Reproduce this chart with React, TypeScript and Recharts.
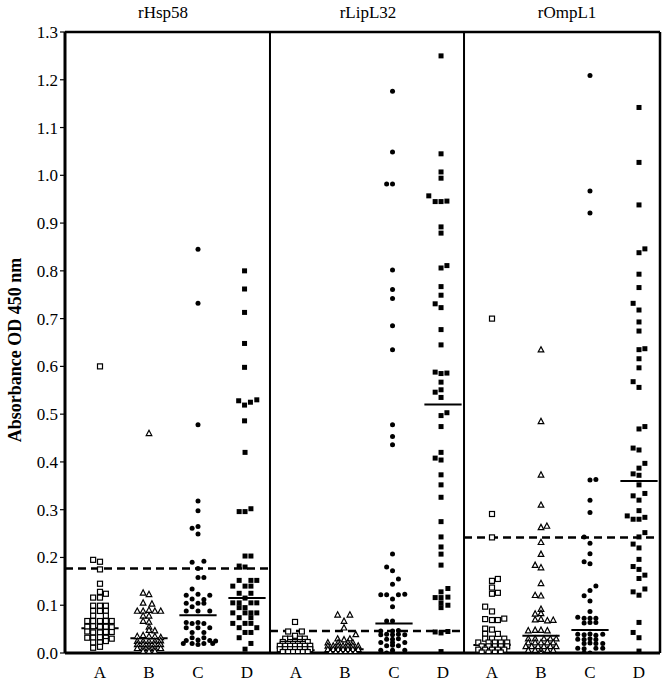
import { ScatterChart, Scatter, XAxis, YAxis, ReferenceLine } from "recharts";

const panels = ["rHsp58", "rLipL32", "rOmpL1"];
const groups = ["A", "B", "C", "D"];
const yTicks = [0, 0.1, 0.2, 0.3, 0.4, 0.5, 0.6, 0.7, 0.8, 0.9, 1.0, 1.1, 1.2, 1.3];

// each point: [offset inside the category, absorbance]
const hspA = [
  [-0.14, 0.195], [0, 0.191], [0, 0.175], [0, 0.145], [0, 0.128], [0.12, 0.124],
  [-0.14, 0.116], [0, 0.116], [-0.14, 0.099], [0, 0.099], [0.12, 0.099],
  [-0.14, 0.088], [0, 0.088], [0.12, 0.088], [-0.14, 0.078], [0.12, 0.078],
  [-0.26, 0.067], [-0.14, 0.067], [0, 0.067], [0.12, 0.067], [0.24, 0.067],
  [-0.26, 0.055], [-0.14, 0.056], [0, 0.055], [0.12, 0.055], [0.24, 0.054],
  [-0.26, 0.045], [-0.14, 0.043], [0, 0.043], [0.12, 0.044], [0.24, 0.044],
  [-0.26, 0.032], [-0.14, 0.032], [0, 0.033], [0.12, 0.032], [0.24, 0.03],
  [-0.14, 0.022], [0, 0.022], [0.12, 0.025], [-0.14, 0.011], [0, 0.013], [0, 0.6],
];
const hspB = [
  [0, 0.46], [-0.12, 0.126], [0, 0.123], [-0.12, 0.105], [0.06, 0.103],
  [-0.24, 0.088], [-0.12, 0.088], [0, 0.09], [0.12, 0.088], [0.24, 0.088],
  [-0.12, 0.078], [0, 0.078], [-0.12, 0.067], [0, 0.065], [0, 0.055],
  [0, 0.048], [0.12, 0.047],
  [-0.24, 0.035], [-0.12, 0.037], [0, 0.035], [0.12, 0.035], [0.24, 0.033],
  [-0.24, 0.025], [-0.12, 0.025], [0, 0.025], [0.12, 0.025], [0.24, 0.026],
  [-0.24, 0.018], [-0.12, 0.018], [0, 0.017], [0.12, 0.018], [0.24, 0.018],
  [-0.24, 0.01], [-0.12, 0.01], [0, 0.01], [0.12, 0.01], [0.24, 0.01],
  [-0.12, 0.004], [0, 0.004], [0.12, 0.004],
];
const hspC = [
  [0, 0.845], [0, 0.732], [0, 0.478], [0, 0.318], [0, 0.298], [-0.12, 0.261],
  [0, 0.265], [0, 0.249], [-0.12, 0.19], [0.12, 0.192], [0, 0.177], [0, 0.158],
  [0.12, 0.158], [-0.12, 0.134], [-0.24, 0.121], [0, 0.123], [0.24, 0.121],
  [-0.12, 0.113], [0.12, 0.112], [-0.24, 0.104], [0, 0.104], [0.12, 0.104],
  [-0.12, 0.097], [-0.24, 0.088], [0, 0.088], [0.24, 0.088],
  [-0.24, 0.064], [-0.12, 0.062], [0, 0.064], [0.12, 0.062],
  [-0.24, 0.053], [0, 0.053], [0.24, 0.053], [-0.12, 0.043], [0.12, 0.043],
  [-0.12, 0.032], [0.12, 0.032], [-0.24, 0.026], [0, 0.027], [0.24, 0.026],
  [0.36, 0.025], [-0.3, 0.02], [-0.12, 0.02], [0, 0.018], [0.12, 0.02], [0.3, 0.02],
];
const hspD = [
  [-0.05, 0.8], [-0.05, 0.762], [-0.05, 0.713], [-0.05, 0.648], [-0.05, 0.598],
  [-0.17, 0.528], [-0.05, 0.519], [0.07, 0.525], [0.2, 0.53], [-0.05, 0.486],
  [-0.04, 0.42], [-0.16, 0.296], [-0.04, 0.296], [0.08, 0.302], [-0.04, 0.203],
  [0.08, 0.203], [-0.16, 0.182], [-0.04, 0.18],
  [-0.16, 0.152], [0.08, 0.152], [0.2, 0.152], [-0.29, 0.14], [-0.04, 0.14], [0.08, 0.14],
  [-0.16, 0.125], [0.08, 0.125], [-0.04, 0.115], [-0.29, 0.105], [-0.16, 0.105],
  [0.08, 0.105], [0.2, 0.105], [-0.16, 0.095], [-0.04, 0.095], [-0.29, 0.084],
  [-0.04, 0.084], [0.08, 0.084], [0.2, 0.084], [-0.16, 0.074], [0.08, 0.074],
  [-0.29, 0.062], [-0.04, 0.062], [0.08, 0.062], [-0.16, 0.053], [0.2, 0.053],
  [-0.04, 0.043], [0.08, 0.043], [-0.16, 0.032], [0.08, 0.02], [-0.04, 0.008],
];

const lipA = [
  [-0.02, 0.065], [-0.16, 0.045], [0.12, 0.045], [-0.02, 0.036],
  [-0.22, 0.03], [-0.12, 0.03], [0.08, 0.03], [0.18, 0.03],
  [-0.27, 0.023], [-0.12, 0.023], [-0.02, 0.023], [0.08, 0.023], [0.18, 0.023], [0.24, 0.023],
  [-0.27, 0.019], [-0.16, 0.019], [-0.06, 0.019], [0.04, 0.019], [0.14, 0.019],
  [-0.33, 0.015], [-0.22, 0.015], [-0.12, 0.015], [-0.02, 0.015], [0.08, 0.015], [0.18, 0.015], [0.29, 0.015],
  [-0.33, 0.008], [-0.22, 0.008], [-0.12, 0.008], [-0.02, 0.008], [0.08, 0.008], [0.18, 0.008], [0.29, 0.008],
  [-0.27, 0.002], [-0.16, 0.002], [-0.06, 0.002], [0.04, 0.002], [0.14, 0.002], [0.24, 0.002],
];
const lipB = [
  [-0.15, 0.08], [0.1, 0.08], [-0.02, 0.067], [-0.02, 0.053], [0.22, 0.039],
  [-0.15, 0.03], [-0.02, 0.028], [0.1, 0.03],
  [-0.35, 0.022], [-0.14, 0.022], [0.06, 0.022], [0.16, 0.022],
  [-0.35, 0.015], [-0.24, 0.015], [-0.14, 0.015], [-0.04, 0.015], [0.06, 0.015], [0.16, 0.015], [0.27, 0.015],
  [-0.35, 0.008], [-0.24, 0.008], [-0.14, 0.008], [-0.04, 0.008], [0.06, 0.008], [0.16, 0.008], [0.27, 0.008],
  [-0.3, 0.002], [-0.19, 0.002], [-0.09, 0.002], [0.01, 0.002], [0.11, 0.002], [0.21, 0.002],
];
const lipC = [
  [-0.03, 1.176], [-0.03, 1.049], [-0.15, 0.982], [-0.03, 0.982], [-0.03, 0.802],
  [-0.03, 0.761], [-0.03, 0.742], [-0.03, 0.685], [-0.03, 0.635], [-0.03, 0.478],
  [-0.03, 0.453], [-0.03, 0.436], [-0.03, 0.207], [-0.15, 0.18], [-0.03, 0.172],
  [0.09, 0.155], [-0.03, 0.144], [-0.27, 0.122], [-0.15, 0.122], [0.09, 0.122],
  [0.22, 0.123], [-0.03, 0.113], [-0.03, 0.097], [-0.15, 0.067], [-0.03, 0.067],
  [-0.27, 0.046], [-0.03, 0.046], [0.09, 0.047],
  [-0.27, 0.038], [-0.15, 0.039], [-0.03, 0.038], [0.09, 0.039], [0.22, 0.038],
  [-0.15, 0.029], [-0.03, 0.029], [0.09, 0.03], [-0.27, 0.022], [-0.03, 0.022], [0.22, 0.022],
  [-0.15, 0.015], [-0.03, 0.016], [0.09, 0.015], [-0.27, 0.006], [-0.03, 0.006], [0.22, 0.006],
  [-0.15, 0.0], [-0.03, 0.0],
];
const lipD = [
  [-0.04, 1.25], [-0.04, 1.045], [-0.04, 1.007], [-0.04, 0.994], [-0.29, 0.957],
  [-0.16, 0.945], [-0.04, 0.945], [0.08, 0.946], [-0.04, 0.892], [-0.04, 0.879],
  [-0.04, 0.806], [0.08, 0.811], [-0.04, 0.767], [-0.04, 0.749], [-0.16, 0.731],
  [-0.04, 0.723], [-0.04, 0.677], [-0.04, 0.645], [-0.16, 0.588], [-0.04, 0.585],
  [0.08, 0.586], [-0.04, 0.567], [-0.16, 0.546], [-0.04, 0.551], [-0.04, 0.535],
  [-0.04, 0.497], [0.08, 0.503], [-0.04, 0.474], [-0.16, 0.408], [-0.04, 0.42],
  [-0.04, 0.404], [-0.04, 0.373], [-0.04, 0.352], [-0.04, 0.326], [-0.04, 0.275],
  [-0.04, 0.243], [-0.04, 0.222], [-0.04, 0.207], [-0.04, 0.184],
  [0.1, 0.135], [-0.04, 0.128], [-0.16, 0.116], [-0.04, 0.116], [0.1, 0.117],
  [-0.04, 0.105], [0.1, 0.1], [-0.04, 0.095], [-0.16, 0.044], [-0.04, 0.042],
  [0.1, 0.045], [-0.04, 0.003],
];

const ompA = [
  [0, 0.7], [0, 0.291], [0, 0.242], [0, 0.151], [0.12, 0.155], [0, 0.137],
  [0, 0.124], [0.12, 0.126], [-0.14, 0.097], [0, 0.087], [-0.14, 0.071],
  [0, 0.069], [0.12, 0.069], [0.25, 0.072], [-0.14, 0.051], [0, 0.049],
  [-0.14, 0.04], [0.12, 0.04], [-0.14, 0.03], [0, 0.03], [0.25, 0.03],
  [-0.28, 0.022], [-0.07, 0.022], [0.06, 0.022], [0.18, 0.022], [0.31, 0.022],
  [-0.21, 0.014], [-0.07, 0.014], [0.06, 0.014], [0.18, 0.014], [0.31, 0.014],
  [-0.28, 0.007], [-0.14, 0.007], [0, 0.007], [0.12, 0.007], [0.25, 0.007],
  [-0.21, 0.001], [-0.07, 0.001], [0.06, 0.001], [0.18, 0.001],
];
const ompB = [
  [0, 0.635], [0, 0.485], [0, 0.373], [0, 0.31], [0, 0.263], [0.12, 0.266],
  [0, 0.232], [0, 0.207], [-0.12, 0.184], [0, 0.179], [0, 0.146], [-0.12, 0.121],
  [0, 0.12], [0, 0.092], [-0.12, 0.082], [0, 0.083], [-0.12, 0.07], [0, 0.071],
  [0.13, 0.068], [0.25, 0.069], [-0.26, 0.047], [-0.12, 0.048], [0, 0.048], [0.13, 0.047],
  [-0.26, 0.03], [-0.12, 0.03], [0.06, 0.03], [0.19, 0.03], [0.31, 0.03],
  [-0.26, 0.022], [-0.12, 0.022], [0, 0.022], [0.13, 0.022], [0.25, 0.022],
  [-0.31, 0.014], [-0.19, 0.014], [-0.06, 0.014], [0.06, 0.014], [0.19, 0.014], [0.31, 0.014],
  [-0.26, 0.006], [-0.12, 0.006], [0, 0.006], [0.13, 0.006], [0.25, 0.006], [0, 0.0],
];
const ompC = [
  [0, 1.209], [0, 0.967], [0, 0.921], [0, 0.362], [0.12, 0.363], [0, 0.32],
  [0, 0.294], [-0.12, 0.243], [0, 0.23], [0, 0.208], [-0.12, 0.191], [0, 0.187],
  [0.12, 0.14], [0, 0.131], [-0.12, 0.12], [0, 0.109], [0, 0.087],
  [-0.25, 0.075], [-0.12, 0.073], [0, 0.073], [0.12, 0.073],
  [-0.12, 0.063], [0, 0.064], [0.12, 0.064],
  [-0.25, 0.039], [-0.12, 0.038], [0, 0.04], [0.12, 0.037], [0.26, 0.039],
  [-0.25, 0.029], [-0.12, 0.028], [0, 0.03], [0.12, 0.028],
  [-0.12, 0.02], [0, 0.021], [0.12, 0.02], [0.26, 0.02],
  [-0.25, 0.01], [-0.12, 0.009], [0.12, 0.01], [0.26, 0.01], [-0.12, 0.0], [0, 0.0],
];
const ompD = [
  [0, 1.142], [0, 1.027], [0, 0.938], [0, 0.838], [0.12, 0.846], [0, 0.793],
  [0, 0.765], [-0.12, 0.732], [0, 0.718], [0, 0.693], [0, 0.674], [0, 0.635],
  [0.12, 0.637], [0, 0.616], [0, 0.597], [-0.12, 0.568], [0, 0.556], [0, 0.469],
  [0.12, 0.474], [-0.12, 0.429], [0, 0.425], [0.12, 0.397], [0, 0.387],
  [-0.12, 0.375], [0, 0.372], [0, 0.352], [0.12, 0.334], [-0.12, 0.329], [0, 0.32],
  [0, 0.298], [-0.24, 0.287], [-0.12, 0.28], [0, 0.28], [0.12, 0.284], [0.12, 0.252],
  [0, 0.243], [-0.12, 0.228], [0, 0.22], [0, 0.196], [-0.12, 0.181], [0, 0.175],
  [0.12, 0.163], [0, 0.156], [0.12, 0.134], [-0.12, 0.128], [0, 0.121], [0, 0.064],
  [-0.12, 0.043], [0, 0.032], [0, 0.004],
];

const panelData = [
  [hspA, hspB, hspC, hspD],
  [lipA, lipB, lipC, lipD],
  [ompA, ompB, ompC, ompD],
];
const medians = [
  [0.052, 0.031, 0.079, 0.115],
  [0.006, 0.008, 0.062, 0.52],
  [0.017, 0.036, 0.048, 0.36],
];
const cutoffs = [0.177, 0.046, 0.242];

const X_MIN = 0.2857;
const X_MAX = 12.4286;
const panelEdges = [X_MIN, 4.469, 8.429, X_MAX];
const SERIF = "'Liberation Serif', 'DejaVu Serif', serif";

const seriesFor = (g: number) =>
  panelData.flatMap((groupsInPanel, p) =>
    groupsInPanel[g].map(([dx, v]) => ({ x: p * 4 + g + 1 + dx, y: v }))
  );

const OpenSquare = (props: any) => (
  <rect x={props.cx - 2.5} y={props.cy - 2.5} width={5} height={5} fill="#fff" stroke="#000" strokeWidth={1.2} />
);
const OpenTriangle = (props: any) => {
  const { cx, cy } = props;
  return (
    <polygon
      points={`${cx},${cy - 3} ${cx - 2.8},${cy + 2.3} ${cx + 2.8},${cy + 2.3}`}
      fill="#fff"
      stroke="#000"
      strokeWidth={1.2}
    />
  );
};
const Dot = (props: any) => <circle cx={props.cx} cy={props.cy} r={2.5} fill="#000" />;
const FilledSquare = (props: any) => (
  <rect x={props.cx - 2.5} y={props.cy - 2.5} width={5} height={5} fill="#000" />
);
const shapes = [OpenSquare, OpenTriangle, Dot, FilledSquare];

const xTicks = Array.from({ length: 12 }, (_, i) => i + 1);

export default function App() {
  return (
    <div style={{ position: "absolute", left: 0, top: 0, width: 671, height: 686, background: "#fff" }}>
      <ScatterChart width={671} height={686} margin={{ top: 32, right: 11, bottom: 0, left: 0 }}>
        <XAxis
          type="number"
          dataKey="x"
          domain={[X_MIN, X_MAX]}
          allowDataOverflow
          ticks={xTicks}
          tickFormatter={(v: number) => groups[(Math.round(v) - 1) % 4]}
          tickLine={false}
          height={33}
          axisLine={{ stroke: "#000", strokeWidth: 3 }}
          tick={{ fontSize: 17, fontFamily: SERIF, fill: "#000" }}
          tickMargin={7}
        />
        <YAxis
          type="number"
          dataKey="y"
          domain={[0, 1.3]}
          allowDataOverflow
          ticks={yTicks}
          tickFormatter={(v: number) => v.toFixed(1)}
          width={65}
          axisLine={{ stroke: "#000", strokeWidth: 3 }}
          tickLine={{ stroke: "#000", strokeWidth: 1.2 }}
          tickSize={5}
          tickMargin={2}
          tick={{ fontSize: 17, fontFamily: SERIF, fill: "#000" }}
        />
        <ReferenceLine y={1.3} stroke="#000" strokeWidth={2.5} />
        <ReferenceLine x={X_MAX} stroke="#000" strokeWidth={2.5} />
        <ReferenceLine x={panelEdges[1]} stroke="#000" strokeWidth={2} />
        <ReferenceLine x={panelEdges[2]} stroke="#000" strokeWidth={2} />
        {cutoffs.map((c, p) => (
          <ReferenceLine
            key={`cut-${p}`}
            segment={[{ x: panelEdges[p], y: c }, { x: panelEdges[p + 1], y: c }]}
            stroke="#000"
            strokeWidth={2.5}
            strokeDasharray="8 5"
          />
        ))}
        {medians.flatMap((row, p) =>
          row.map((m, g) => {
            const c = p * 4 + g + 1;
            return (
              <ReferenceLine
                key={`med-${p}-${g}`}
                segment={[{ x: c - 0.38, y: m }, { x: c + 0.38, y: m }]}
                stroke="#000"
                strokeWidth={2}
              />
            );
          })
        )}
        {groups.map((g, i) => (
          <Scatter key={g} name={g} data={seriesFor(i)} shape={shapes[i]} isAnimationActive={false} />
        ))}
      </ScatterChart>
      {panels.map((title, p) => (
        <div
          key={title}
          style={{
            position: "absolute",
            top: 3,
            left: [163, 368, 567][p] - 60,
            width: 120,
            textAlign: "center",
            fontFamily: SERIF,
            fontSize: 17,
            lineHeight: "20px",
            color: "#000",
          }}
        >
          {title}
        </div>
      ))}
      <div
        style={{
          position: "absolute",
          left: 15 - 130,
          top: 350 - 11,
          width: 260,
          height: 22,
          lineHeight: "22px",
          textAlign: "center",
          transform: "rotate(-90deg)",
          fontFamily: SERIF,
          fontWeight: "bold",
          fontSize: 18,
          color: "#000",
        }}
      >
        Absorbance OD 450 nm
      </div>
    </div>
  );
}
